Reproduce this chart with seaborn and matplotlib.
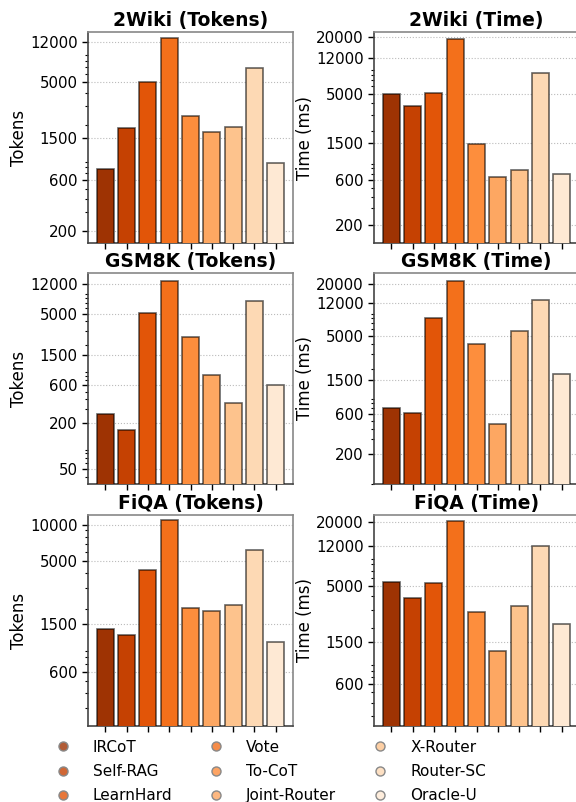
import numpy as np
import pandas as pd
import matplotlib
matplotlib.use("Agg")
import matplotlib.pyplot as plt
import seaborn as sns
from matplotlib.lines import Line2D
from matplotlib.ticker import FixedLocator, NullFormatter, FuncFormatter

######################### Data ############################
methods = ["IRCoT", "Self-RAG", "LearnHard", "Vote", "To-CoT",
           "Joint-Router", "X-Router", "Router-SC", "Oracle-U"]

tokens_2wiki = [770, 1850, 5000, 13000, 2400, 1720, 1890, 6900, 870]
time_2wiki = [5000, 3700, 5050, 19200, 1450, 640, 765, 8250, 690]
tokens_gsm8k = [260, 160, 5150, 13200, 2550, 815, 355, 7300, 610]
time_gsm8k = [695, 615, 7950, 22000, 3950, 450, 5600, 13200, 1780]
tokens_fiqa = [1360, 1210, 4200, 10900, 2020, 1920, 2150, 6200, 1065]
time_fiqa = [5450, 3900, 5400, 20500, 2880, 1220, 3250, 11950, 2180]

ticks_2wiki_tok = [200, 600, 1500, 5000, 12000]
ticks_2wiki_time = [200, 600, 1500, 5000, 12000, 20000]
ticks_gsm8k_tok = [50, 200, 600, 1500, 5000, 12000]
ticks_gsm8k_time = [200, 600, 1500, 5000, 12000, 20000]
ticks_fiqa_tok = [600, 1500, 5000, 10000]
ticks_fiqa_time = [600, 1500, 5000, 12000, 20000]

# (title, ylabel, values, yticks, ylim)
panels = [
    ("2Wiki (Tokens)", "Tokens", tokens_2wiki, ticks_2wiki_tok, (154, 14900)),
    ("2Wiki (Time)", "Time (ms)", time_2wiki, ticks_2wiki_time, (128, 22800)),
    ("GSM8K (Tokens)", "Tokens", tokens_gsm8k, ticks_gsm8k_tok, (32.4, 16800)),
    ("GSM8K (Time)", "Time (ms)", time_gsm8k, ticks_gsm8k_time, (89.5, 27200)),
    ("FiQA (Tokens)", "Tokens", tokens_fiqa, ticks_fiqa_tok, (212, 12100)),
    ("FiQA (Time)", "Time (ms)", time_fiqa, ticks_fiqa_time, (241, 23400)),
]

sns.set_theme(style="ticks")
plt.rcParams["font.family"] = ["DejaVu Sans"]
plt.rcParams.update({
    "text.color": "black",
    "axes.labelcolor": "black",
    "xtick.color": "black",
    "ytick.color": "black",
    "xtick.major.size": 4,
    "ytick.major.size": 4,
    "ytick.minor.size": 2.2,
    "xtick.major.width": 1.0,
    "ytick.major.width": 1.0,
    "ytick.minor.width": 0.8,
})

palette = sns.color_palette("Oranges_r", len(methods))

fig = plt.figure(figsize=(5.76, 8.02), dpi=100)
W, H = 576.0, 802.0
col_left = [88, 374]
ax_w = 205
row_top = [32, 273, 515]
ax_h = 211

for i, (title, ylabel, vals, yticks, ylim) in enumerate(panels):
    r, c = divmod(i, 2)
    ax = fig.add_axes([col_left[c] / W, 1 - (row_top[r] + ax_h) / H, ax_w / W, ax_h / H])
    df = pd.DataFrame({"method": methods, "value": vals})
    sns.barplot(data=df, x="method", y="value", hue="method", palette=palette,
                legend=False, ax=ax, width=0.8, saturation=1,
                edgecolor=(0, 0, 0, 0.6), linewidth=1.2, zorder=3)
    ax.set_yscale("log")
    ax.set_ylim(*ylim)
    ax.set_xlim(-0.81, 8.81)
    ax.yaxis.set_major_locator(FixedLocator(yticks))
    ax.yaxis.set_major_formatter(FuncFormatter(lambda v, p: f"{v:g}"))
    ax.yaxis.set_minor_formatter(NullFormatter())
    ax.set_xticks(range(len(methods)))
    ax.set_xticklabels([])
    ax.set_xlabel("")
    ax.set_ylabel(ylabel, fontsize=12, labelpad=1.5)
    ax.set_title(title, fontsize=13.5, fontweight="bold", pad=4)
    ax.tick_params(axis="y", labelsize=10.8, which="both")
    ax.yaxis.grid(True, which="major", linestyle=":", color="#bbbbbb", linewidth=0.8)
    ax.set_axisbelow(True)
    for side in ["left", "bottom"]:
        ax.spines[side].set_color("#444444")
        ax.spines[side].set_linewidth(1.2)
    for side in ["top", "right"]:
        ax.spines[side].set_color("#888888")
        ax.spines[side].set_linewidth(1.2)

handles = [Line2D([0], [0], marker="o", linestyle="", markersize=6.5,
                  markerfacecolor=(*palette[k], 0.8), markeredgecolor="#888888",
                  markeredgewidth=1.0, label=m)
           for k, m in enumerate(methods)]
fig.legend(handles=handles, loc="upper left", bbox_to_anchor=(34 / W, 1 - 726 / H),
           ncol=3, frameon=False, fontsize=11, handletextpad=0.95,
           columnspacing=1.88, labelspacing=0.6)

fig.savefig("out.png", dpi=100)
